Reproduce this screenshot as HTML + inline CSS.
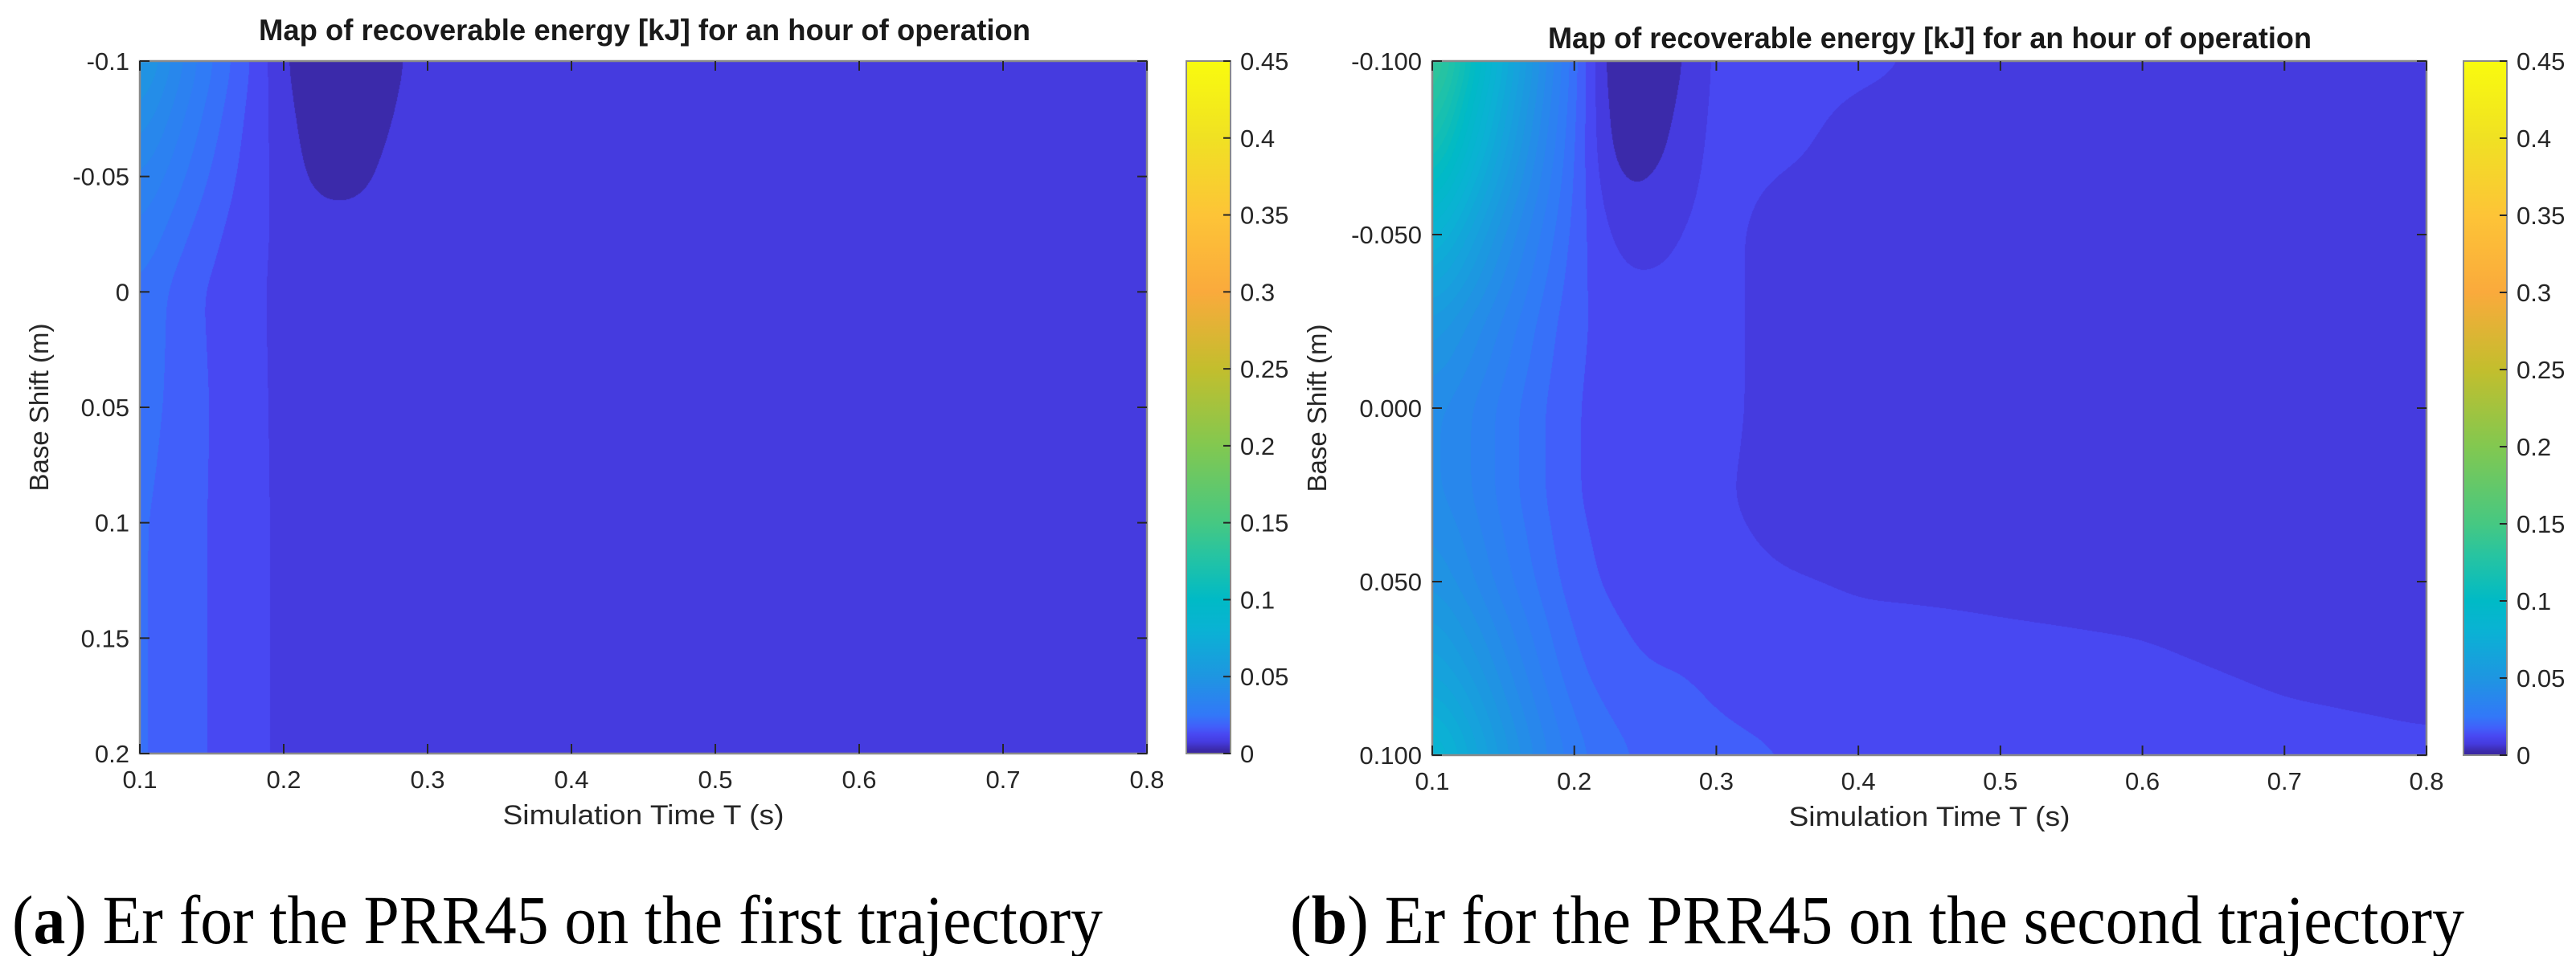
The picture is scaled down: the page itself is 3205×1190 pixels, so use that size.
<!DOCTYPE html>
<html><head><meta charset="utf-8"><style>
html,body{margin:0;padding:0;background:#fff;}
#root{position:relative;width:3205px;height:1190px;overflow:hidden;background:#fff;}
canvas{position:absolute;}
svg{position:absolute;left:0;top:0;}
</style></head><body>
<div id="root">
<canvas id="fieldA"></canvas>
<canvas id="fieldB"></canvas>
<svg id="ov" width="3205" height="1190"></svg>
</div>
<script>
// ---- data ----
const timeCols = [0.1,0.125,0.15,0.175,0.2,0.225,0.25,0.275,0.3,0.35,0.4,0.5,0.6,0.7,0.8];
const shiftRowsA = [-0.1,-0.075,-0.05,-0.025,0,0.05,0.1,0.15,0.2];
const energyA = [
 [0.055,0.038,0.025,0.016,0.005,0.0,0.0,0.003,0.0085,0.0075,0.0075,0.0075,0.0075,0.0075,0.0075],
 [0.045,0.032,0.022,0.014,0.007,0.001,0.001,0.005,0.0085,0.0075,0.0075,0.0075,0.0075,0.0075,0.0075],
 [0.036,0.027,0.019,0.013,0.008,0.003,0.003,0.007,0.008,0.0075,0.0075,0.0075,0.0075,0.0075,0.0075],
 [0.03,0.022,0.016,0.012,0.0085,0.0075,0.0075,0.0075,0.0075,0.0075,0.0075,0.0075,0.0075,0.0075,0.0075],
 [0.025,0.018,0.014,0.0115,0.0085,0.0075,0.0075,0.0075,0.0075,0.0075,0.0075,0.0075,0.0075,0.0075,0.0075],
 [0.022,0.019,0.0145,0.0115,0.0088,0.0075,0.0075,0.0075,0.0075,0.0075,0.0075,0.0075,0.0075,0.0075,0.0075],
 [0.021,0.018,0.0145,0.0115,0.009,0.0075,0.0075,0.0075,0.0075,0.0075,0.0075,0.0075,0.0075,0.0075,0.0075],
 [0.021,0.018,0.0145,0.0115,0.009,0.0075,0.0075,0.0075,0.0075,0.0075,0.0075,0.0075,0.0075,0.0075,0.0075],
 [0.021,0.018,0.0145,0.0115,0.009,0.0075,0.0075,0.0075,0.0075,0.0075,0.0075,0.0075,0.0075,0.0075,0.0075]
];
const shiftRowsB = [-0.1,-0.075,-0.05,-0.025,0,0.025,0.05,0.075,0.1];
const energyB = [
 [0.145,0.11,0.075,0.045,0.022,0.0,0.0,0.004,0.012,0.012,0.011,0.008,0.008,0.008,0.008],
 [0.12,0.09,0.062,0.038,0.02,0.003,0.002,0.007,0.012,0.011,0.008,0.008,0.008,0.008,0.008],
 [0.085,0.065,0.045,0.03,0.018,0.009,0.008,0.01,0.012,0.007,0.007,0.007,0.007,0.007,0.007],
 [0.055,0.045,0.034,0.024,0.016,0.013,0.012,0.012,0.012,0.007,0.007,0.007,0.007,0.007,0.007],
 [0.042,0.036,0.028,0.021,0.015,0.013,0.012,0.012,0.012,0.007,0.007,0.007,0.007,0.007,0.007],
 [0.042,0.036,0.028,0.021,0.015,0.013,0.012,0.012,0.011,0.007,0.007,0.007,0.007,0.007,0.007],
 [0.05,0.042,0.032,0.024,0.017,0.014,0.013,0.012,0.012,0.0105,0.0095,0.0093,0.009,0.008,0.008],
 [0.065,0.055,0.042,0.03,0.021,0.017,0.015,0.015,0.014,0.013,0.012,0.011,0.0105,0.0095,0.009],
 [0.09,0.072,0.053,0.038,0.027,0.022,0.019,0.017,0.016,0.015,0.014,0.012,0.012,0.011,0.0105]
];
const xTicks = [0.1,0.2,0.3,0.4,0.5,0.6,0.7,0.8];
const yTicksA = [-0.1,-0.05,0,0.05,0.1,0.15,0.2];
const yTickLabelsA = ["-0.1","-0.05","0","0.05","0.1","0.15","0.2"];
const yTicksB = [-0.1,-0.05,0,0.05,0.1];
const yTickLabelsB = ["-0.100","-0.050","0.000","0.050","0.100"];
const cbTicks = [0,0.05,0.1,0.15,0.2,0.25,0.3,0.35,0.4,0.45];
const cbTickLabels = ["0","0.05","0.1","0.15","0.2","0.25","0.3","0.35","0.4","0.45"];
const cmapVals = [0,0.0025,0.0075,0.0125,0.0175,0.025,0.05,0.08,0.1,0.13,0.15,0.2,0.25,0.3,0.35,0.4,0.45];
const cmapCols = [[58,38,160],[59,42,170],[69,59,223],[72,72,242],[65,95,250],[50,120,248],[30,150,225],[10,178,212],[0,186,198],[40,196,160],[70,200,130],[130,200,80],[195,190,45],[250,170,60],[253,196,55],[240,225,35],[249,251,14]];
const levelStep = 0.005;

function cmap(v){
  if(v<=cmapVals[0]) return cmapCols[0];
  for(let i=1;i<cmapVals.length;i++){
    if(v<=cmapVals[i]){const t=(v-cmapVals[i-1])/(cmapVals[i]-cmapVals[i-1]);
      return cmapCols[i-1].map((c,k)=>c+(cmapCols[i][k]-c)*t);}
  }
  return cmapCols[cmapCols.length-1];
}
function seg(arr,v){let i=0;while(i<arr.length-2&&v>arr[i+1])i++;const t=(v-arr[i])/(arr[i+1]-arr[i]);return [i,Math.max(0,Math.min(1,t))];}
function sample(rows,grid,T,S){
  const [ci,ct]=seg(timeCols,T);const [ri,rt]=seg(rows,S);
  const a=grid[ri][ci],b=grid[ri][ci+1],c=grid[ri+1][ci],d=grid[ri+1][ci+1];
  return (a*(1-ct)+b*ct)*(1-rt)+(c*(1-ct)+d*ct)*rt;
}
function boxBlur(f,W,H,r){
  const tmp=new Float32Array(W*H);
  for(let y=0;y<H;y++){
    for(let x=0;x<W;x++){
      let s=0,n=0;
      for(let k=-r;k<=r;k+=2){const xx=Math.min(W-1,Math.max(0,x+k));s+=f[y*W+xx];n++;}
      tmp[y*W+x]=s/n;
    }
  }
  for(let x=0;x<W;x++){
    for(let y=0;y<H;y++){
      let s=0,n=0;
      for(let k=-r;k<=r;k+=2){const yy=Math.min(H-1,Math.max(0,y+k));s+=tmp[yy*W+x];n++;}
      f[y*W+x]=s/n;
    }
  }
}
const NS='http://www.w3.org/2000/svg';
const ov=document.getElementById('ov');
function el(tag,attrs,parent){const e=document.createElementNS(NS,tag);for(const k in attrs)e.setAttribute(k,attrs[k]);(parent||ov).appendChild(e);return e;}

function drawChart(cfg){
  const {id,L,R,Tp,B,rows,grid,ymin,ymax,yt,ytl,cbL,cbR,cbT,cbB,title,titleX,titleW,titleY,ytX,caption,capX,capW,capLetter}=cfg;
  const W=R-L,H=B-Tp;
  const xs=t=>L+(t-0.1)/0.7*W;
  const ys=s=>Tp+(s-ymin)/(ymax-ymin)*H;
  const cv=document.getElementById(id);
  cv.width=W;cv.height=H;cv.style.left=L+'px';cv.style.top=Tp+'px';
  const ctx=cv.getContext('2d');const img=ctx.createImageData(W,H);
  const f=new Float32Array(W*H);
  for(let py=0;py<H;py++){
    const S=ymin+(py+0.5)/H*(ymax-ymin);
    for(let px=0;px<W;px++){
      const T=0.1+(px+0.5)/W*0.7;
      f[py*W+px]=sample(rows,grid,T,S);
    }
  }
  boxBlur(f,W,H,22);
  boxBlur(f,W,H,22);
  for(let i=0;i<W*H;i++){
    let v=Math.floor(f[i]/levelStep)*levelStep+levelStep/2;
    const c=cmap(v);const o=i*4;
    img.data[o]=c[0];img.data[o+1]=c[1];img.data[o+2]=c[2];img.data[o+3]=255;
  }
  ctx.putImageData(img,0,0);
  const g=el('g',{});
  
  
  el('rect',{x:L,y:Tp,width:W,height:H,fill:'none',stroke:'#8a8a8a','stroke-width':2.5},g);
  xTicks.forEach(t=>{
    const x=xs(t);
    el('line',{x1:x,y1:B,x2:x,y2:B-12,stroke:'#262626','stroke-width':2},g);
    el('line',{x1:x,y1:Tp,x2:x,y2:Tp+12,stroke:'#262626','stroke-width':2},g);
    const tx=el('text',{x:x,y:B+43,'text-anchor':'middle','font-size':31,fill:'#262626','font-family':'Liberation Sans, Arial, sans-serif'},g);
    tx.textContent=String(t);
    
    
  });
  yt.forEach((s,i)=>{
    const y=ys(s);
    el('line',{x1:L,y1:y,x2:L+12,y2:y,stroke:'#262626','stroke-width':2},g);
    el('line',{x1:R,y1:y,x2:R-12,y2:y,stroke:'#262626','stroke-width':2},g);
    const tx=el('text',{x:L-13,y:y+11,'text-anchor':'end','font-size':31,fill:'#262626','font-family':'Liberation Sans, Arial, sans-serif'},g);
    tx.textContent=ytl[i];
    
    
  });
  const tt=el('text',{x:titleX,y:titleY,'text-anchor':'middle','font-size':37,'font-weight':'bold',fill:'#1a1a1a','font-family':'Liberation Sans, Arial, sans-serif',textLength:titleW,lengthAdjust:'spacingAndGlyphs'},g);
  tt.textContent=title;
  
  
  const xt=el('text',{x:(L+R)/2,y:B+88,'text-anchor':'middle','font-size':34,fill:'#262626','font-family':'Liberation Sans, Arial, sans-serif',textLength:350,lengthAdjust:'spacingAndGlyphs'},g);
  xt.textContent='Simulation Time T (s)';
  
  
  const ym=(Tp+B)/2;
  const yl=el('text',{x:ytX,y:ym,'text-anchor':'middle','font-size':33,fill:'#262626','font-family':'Liberation Sans, Arial, sans-serif',transform:`rotate(-90 ${ytX} ${ym})`},g);
  yl.textContent='Base Shift (m)';
  
  
  // colorbar
  const gid=id+'-grad';
  const defs=el('defs',{},g);
  const lg=el('linearGradient',{id:gid,x1:0,y1:1,x2:0,y2:0},defs);
  cmapVals.forEach((v,i)=>{const c=cmapCols[i];el('stop',{offset:v/0.45,'stop-color':`rgb(${c.map(Math.round).join(',')})`},lg);});
  const cb=el('rect',{x:cbL,y:cbT,width:cbR-cbL,height:cbB-cbT,fill:`url(#${gid})`,stroke:'#8a8a8a','stroke-width':2},g);
  
  
  cbTicks.forEach((v,i)=>{
    const y=cbB-(v/0.45)*(cbB-cbT);
    el('line',{x1:cbR,y1:y,x2:cbR-9,y2:y,stroke:'#262626','stroke-width':2},g);
    const tx=el('text',{x:cbR+12,y:y+11,'font-size':31,fill:'#262626','font-family':'Liberation Sans, Arial, sans-serif'},g);
    tx.textContent=cbTickLabels[i];
    
    
  });
  const cap=el('text',{x:capX,y:1174,'font-size':86,fill:'#000','font-family':'Liberation Serif, Times New Roman, serif',textLength:capW,lengthAdjust:'spacingAndGlyphs'},g);
  const t1=el('tspan',{},cap);t1.textContent='(';
  const t2=el('tspan',{'font-weight':'bold'},cap);t2.textContent=capLetter;
  const t3=el('tspan',{},cap);t3.textContent=') '+caption;
  
  
}
const TITLE='Map of recoverable energy [kJ] for an hour of operation';
drawChart({id:'fieldA',L:174,R:1427,Tp:76,B:938,rows:shiftRowsA,grid:energyA,ymin:-0.1,ymax:0.2,yt:yTicksA,ytl:yTickLabelsA,
  cbL:1476,cbR:1531,cbT:76,cbB:938,title:TITLE,titleX:802,titleW:960,titleY:50,ytX:60,caption:'Er for the PRR45 on the first trajectory',capX:15,capW:1357,capLetter:'a'});
drawChart({id:'fieldB',L:1782,R:3019,Tp:76,B:940,rows:shiftRowsB,grid:energyB,ymin:-0.1,ymax:0.1,yt:yTicksB,ytl:yTickLabelsB,
  cbL:3065,cbR:3119,cbT:76,cbB:940,title:TITLE,titleX:2401,titleW:950,titleY:60,ytX:1650,caption:'Er for the PRR45 on the second trajectory',capX:1605,capW:1461,capLetter:'b'});
</script>
</body></html>
